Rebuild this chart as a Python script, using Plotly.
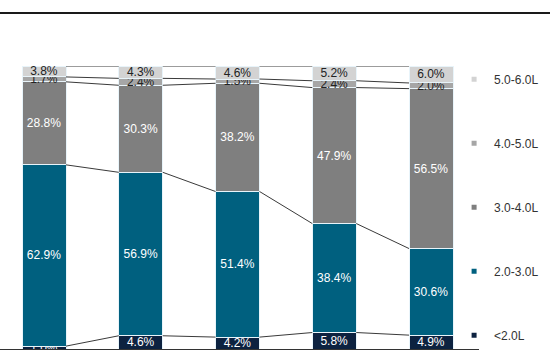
import plotly.graph_objects as go

categories = [0, 1, 2, 3, 4]
series_names = ["<2.0L", "2.0-3.0L", "3.0-4.0L", "4.0-5.0L", "5.0-6.0L"]
v_lt2 = [1.0, 4.6, 4.2, 5.8, 4.9]
v_2_3 = [62.9, 56.9, 51.4, 38.4, 30.6]
v_3_4 = [28.8, 30.3, 38.2, 47.9, 56.5]
v_4_5 = [1.7, 2.4, 1.5, 2.4, 2.0]
v_5_6 = [3.8, 4.3, 4.6, 5.2, 6.0]
series_values = [v_lt2, v_2_3, v_3_4, v_4_5, v_5_6]

colors = ["#0d2240", "#00607f", "#7f7f7f", "#a6a6a6", "#d3d3d3"]
text_colors = ["white", "white", "white", "#222222", "#222222"]
BAR_W = 0.455
FONT = "Liberation Sans, Arial, sans-serif"

fig = go.Figure()

# normalised cumulative tops for series lines
totals = [sum(s[i] for s in series_values) for i in range(len(categories))]
cum = [[0.0] * len(categories) for _ in series_values]
for i in range(len(categories)):
    acc = 0.0
    for k, s in enumerate(series_values):
        acc += s[i] / totals[i] * 100
        cum[k][i] = acc

# series lines between bars
for k in range(len(series_values)):
    xs, ys = [], []
    for i in range(len(categories) - 1):
        xs += [categories[i] + BAR_W / 2, categories[i + 1] - BAR_W / 2, None]
        ys += [cum[k][i], cum[k][i + 1], None]
    fig.add_trace(go.Scatter(x=xs, y=ys, mode="lines", line=dict(color="#3a3a3a", width=1),
                             showlegend=False, hoverinfo="skip"))

for k, (name, vals) in enumerate(zip(series_names, series_values)):
    fig.add_trace(go.Bar(
        x=categories, y=vals, name=name, width=BAR_W,
        marker=dict(color=colors[k], line=dict(color="#e8f4fa", width=1)),
        text=[f"{v:.1f}%" for v in vals], textposition="inside",
        insidetextanchor="middle", constraintext="none",
        textfont=dict(family=FONT, size=12, color=text_colors[k]),
        showlegend=False,
    ))

# legend entries (top to bottom: 5.0-6.0L ... <2.0L)
for k in reversed(range(len(series_names))):
    fig.add_trace(go.Scatter(
        x=[None], y=[None], mode="markers", name=series_names[k],
        legendgroup=series_names[k],
        marker=dict(symbol="square", size=5, color=colors[k]),
        showlegend=True,
    ))

fig.update_layout(
    width=550, height=354,
    barmode="stack", barnorm="percent",
    margin=dict(l=0, r=71, t=66, b=5, autoexpand=False),
    plot_bgcolor="white", paper_bgcolor="white",
    uniformtext=dict(minsize=12, mode="show"),
    xaxis=dict(range=[-0.455, 4.496], showticklabels=False, showgrid=False, zeroline=False,
               showline=True, linecolor="#333333", linewidth=1, ticks=""),
    yaxis=dict(range=[0, 100], showticklabels=False, showgrid=False, zeroline=False,
               showline=False, ticks=""),
    legend=dict(x=0.948, xanchor="left", y=1.004, yanchor="top",
                traceorder="grouped", tracegroupgap=45, maxheight=400,
                font=dict(family=FONT, size=12, color="#333333"),
                itemwidth=30, bgcolor="rgba(0,0,0,0)"),
    showlegend=True,
    font=dict(family=FONT),
)

fig.add_shape(type="line", xref="paper", yref="paper", x0=-0.01, x1=1.2,
              y0=(349 - 13) / 283, y1=(349 - 13) / 283,
              line=dict(color="#1a1a1a", width=2))

fig.write_html("out.html")
